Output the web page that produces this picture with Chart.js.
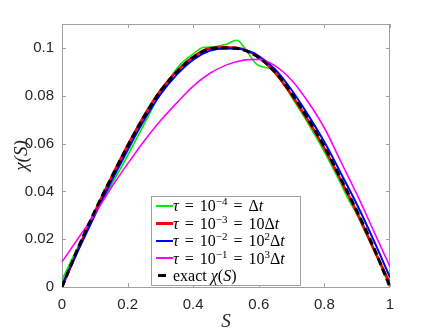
<!DOCTYPE html>
<html><head><meta charset="utf-8">
<script src="https://cdn.jsdelivr.net/npm/chart.js@4/dist/chart.umd.min.js"></script>
<style>
html,body{margin:0;padding:0;background:#fff;}
#wrap{position:relative;width:432px;height:334px;}
#legend{position:absolute;left:151px;top:196px;width:150px;height:90px;border:1px solid #a0a0a0;background:#fff;box-sizing:border-box;font-family:"Liberation Serif","DejaVu Serif",serif;font-size:16px;color:#000;}
.row{position:absolute;left:0;height:17px;width:100%;}
.sw{position:absolute;left:5px;}
.txt{position:absolute;left:21px;top:0;line-height:17px;white-space:nowrap;}
.txt sup{font-size:11px;line-height:0;vertical-align:6px;}
.eq{display:inline-block;margin:0 6px;}
</style>
</head><body>
<div id="wrap"><canvas id="c" width="432" height="334"></canvas><div id="legend"></div></div>
<script>
// ---- data ----
const S = [0,0.05,0.1,0.15,0.2,0.25,0.3,0.35,0.4,0.45,0.5,0.55,0.6,0.65,0.7,0.75,0.8,0.85,0.9,0.95,1];
const chiExact = [0,0.0166,0.0317,0.0456,0.0589,0.0712,0.0819,0.0899,0.0960,0.0995,0.1000,0.0993,0.0960,0.0899,0.0809,0.0703,0.0587,0.0453,0.0315,0.0166,0];
const chiTau3 = [0,0.0160,0.0315,0.0457,0.0592,0.0716,0.0822,0.0903,0.0963,0.0998,0.1003,0.0995,0.0960,0.0896,0.0803,0.0697,0.0580,0.0447,0.0310,0.0160,0.0015];
const chiTau2 = [0.001,0.0155,0.0300,0.0440,0.0572,0.0697,0.0805,0.0888,0.0951,0.0988,0.0998,0.0994,0.0966,0.0910,0.0824,0.0720,0.0606,0.0476,0.0343,0.0196,0.004];
const chiTau1 = [0.0105,0.0205,0.0305,0.0415,0.0515,0.0610,0.0695,0.0770,0.0840,0.0893,0.0928,0.0948,0.0952,0.0925,0.0865,0.0775,0.0665,0.0525,0.0385,0.0235,0.0085];
const S4 = [0,0.05,0.1,0.15,0.2,0.25,0.3,0.33,0.36,0.4,0.43,0.46,0.5,0.533,0.563,0.593,0.62,0.643,0.67,0.7,0.75,0.8,0.85,0.87,0.9,0.95,1];
const chiTau4 = [0.003,0.0172,0.0305,0.0425,0.0550,0.0680,0.0810,0.0875,0.093,0.0975,0.1002,0.1004,0.1015,0.1032,0.0987,0.0932,0.0918,0.0910,0.0865,0.0795,0.0685,0.0565,0.0432,0.0375,0.0300,0.0155,0.0];
const xTicks = [0,0.2,0.4,0.6,0.8,1];
const yTicks = [0,0.02,0.04,0.06,0.08,0.1];
const EQ = '<span class="eq">=</span>';
const legendLabels = [
  '<i>τ</i>'+EQ+'10<sup>−4</sup>'+EQ+'Δ<i>t</i>',
  '<i>τ</i>'+EQ+'10<sup>−3</sup>'+EQ+'10Δ<i>t</i>',
  '<i>τ</i>'+EQ+'10<sup>−2</sup>'+EQ+'10<sup>2</sup>Δ<i>t</i>',
  '<i>τ</i>'+EQ+'10<sup>−1</sup>'+EQ+'10<sup>3</sup>Δ<i>t</i>',
  'exact <i>χ</i>(<i>S</i>)'
];
const colors = ['#00ee00','#ff0000','#0000ff','#ff00ff','#000000'];
const widths = [1.6,2.6,2,1.6,3];

const pts = (xs, ys) => xs.map((x,i)=>({x:x, y:ys[i]}));
const mk = (label, data, i, order, dash) => ({
  label, data, showLine:true, borderColor:colors[i], backgroundColor:colors[i],
  borderWidth:widths[i], pointRadius:0, cubicInterpolationMode:'monotone', order,
  borderDash: dash || []
});

const tickFont = {family:'"Liberation Sans", Arial, sans-serif', size:15};
const tickColor = '#262626';
const frameColor = '#a0a0a0';

const frame = {
  id:'frame',
  beforeDatasetsDraw(chart){
    const {ctx, chartArea:a, scales} = chart;
    ctx.save();
    ctx.strokeStyle = frameColor; ctx.lineWidth = 1;
    ctx.strokeRect(a.left+0.5, a.top+0.5, a.right-a.left-1, a.bottom-a.top);
    const L = 4;
    ctx.beginPath();
    xTicks.forEach(v=>{
      const x = Math.round(scales.x.getPixelForValue(v))+0.5;
      ctx.moveTo(x,a.bottom); ctx.lineTo(x,a.bottom-L);
      ctx.moveTo(x,a.top); ctx.lineTo(x,a.top+L);
    });
    yTicks.forEach(v=>{
      const y = Math.round(scales.y.getPixelForValue(v))+0.5;
      ctx.moveTo(a.left,y); ctx.lineTo(a.left+L,y);
      ctx.moveTo(a.right,y); ctx.lineTo(a.right-L,y);
    });
    ctx.stroke();
    ctx.restore();
  }
};

new Chart(document.getElementById('c'), {
  type:'scatter',
  data:{datasets:[
    mk('τ = 10^-4 = Δt', pts(S4, chiTau4), 0, 4),
    mk('τ = 10^-3 = 10Δt', pts(S, chiTau3), 1, 3),
    mk('τ = 10^-2 = 10^2Δt', pts(S, chiTau2), 2, 2),
    mk('τ = 10^-1 = 10^3Δt', pts(S, chiTau1), 3, 1),
    mk('exact χ(S)', pts(S, chiExact), 4, 0, [7,4])
  ]},
  options:{
    responsive:false, animation:false,
    layout:{padding:{left:0,right:42,top:24,bottom:0}},
    plugins:{legend:{display:false}, tooltip:{enabled:false}},
    scales:{
      x:{type:'linear', min:0, max:1,
        afterBuildTicks:s=>{s.ticks = xTicks.map(v=>({value:v}));},
        afterFit:s=>{s.height = 47;},
        ticks:{callback:v=>String(v), font:tickFont, color:tickColor, padding:9, maxRotation:0, autoSkip:false},
        grid:{display:false, drawTicks:false}, border:{display:false},
        title:{display:true, text:'S', color:'#262626', font:{family:'"Liberation Serif", serif', size:19, style:'italic'}, padding:{top:0,bottom:1}}
      },
      y:{type:'linear', min:0, max:0.11,
        afterBuildTicks:s=>{s.ticks = yTicks.map(v=>({value:v}));},
        afterFit:s=>{s.width = 62;},
        ticks:{callback:v=>String(v), font:tickFont, color:tickColor, padding:8, autoSkip:false},
        grid:{display:false, drawTicks:false}, border:{display:false},
        title:{display:true, text:'χ(S)', color:'#262626', font:{family:'"Liberation Serif", serif', size:19, style:'italic'}, padding:{top:11,bottom:0}}
      }
    }
  },
  plugins:[frame]
});

// HTML legend built from the label / style arrays
const lg = document.getElementById('legend');
const rowY = [0, 17.5, 35, 52.5, 70];
legendLabels.forEach((t,i)=>{
  const r = document.createElement('div');
  r.className='row'; r.style.top = (rowY[i])+'px';
  const sw = document.createElement('div'); sw.className='sw';
  const isDash = i===4;
  sw.style.width = (isDash?8:17)+'px';
  sw.style.left = (isDash?6:4)+'px';
  sw.style.height = Math.round(widths[i])+'px';
  sw.style.top = (8.5 - widths[i]/2)+'px';
  sw.style.background = colors[i];
  const tx = document.createElement('div'); tx.className='txt'; tx.innerHTML = t;
  r.appendChild(sw); r.appendChild(tx); lg.appendChild(r);
});
</script>
</body></html>
